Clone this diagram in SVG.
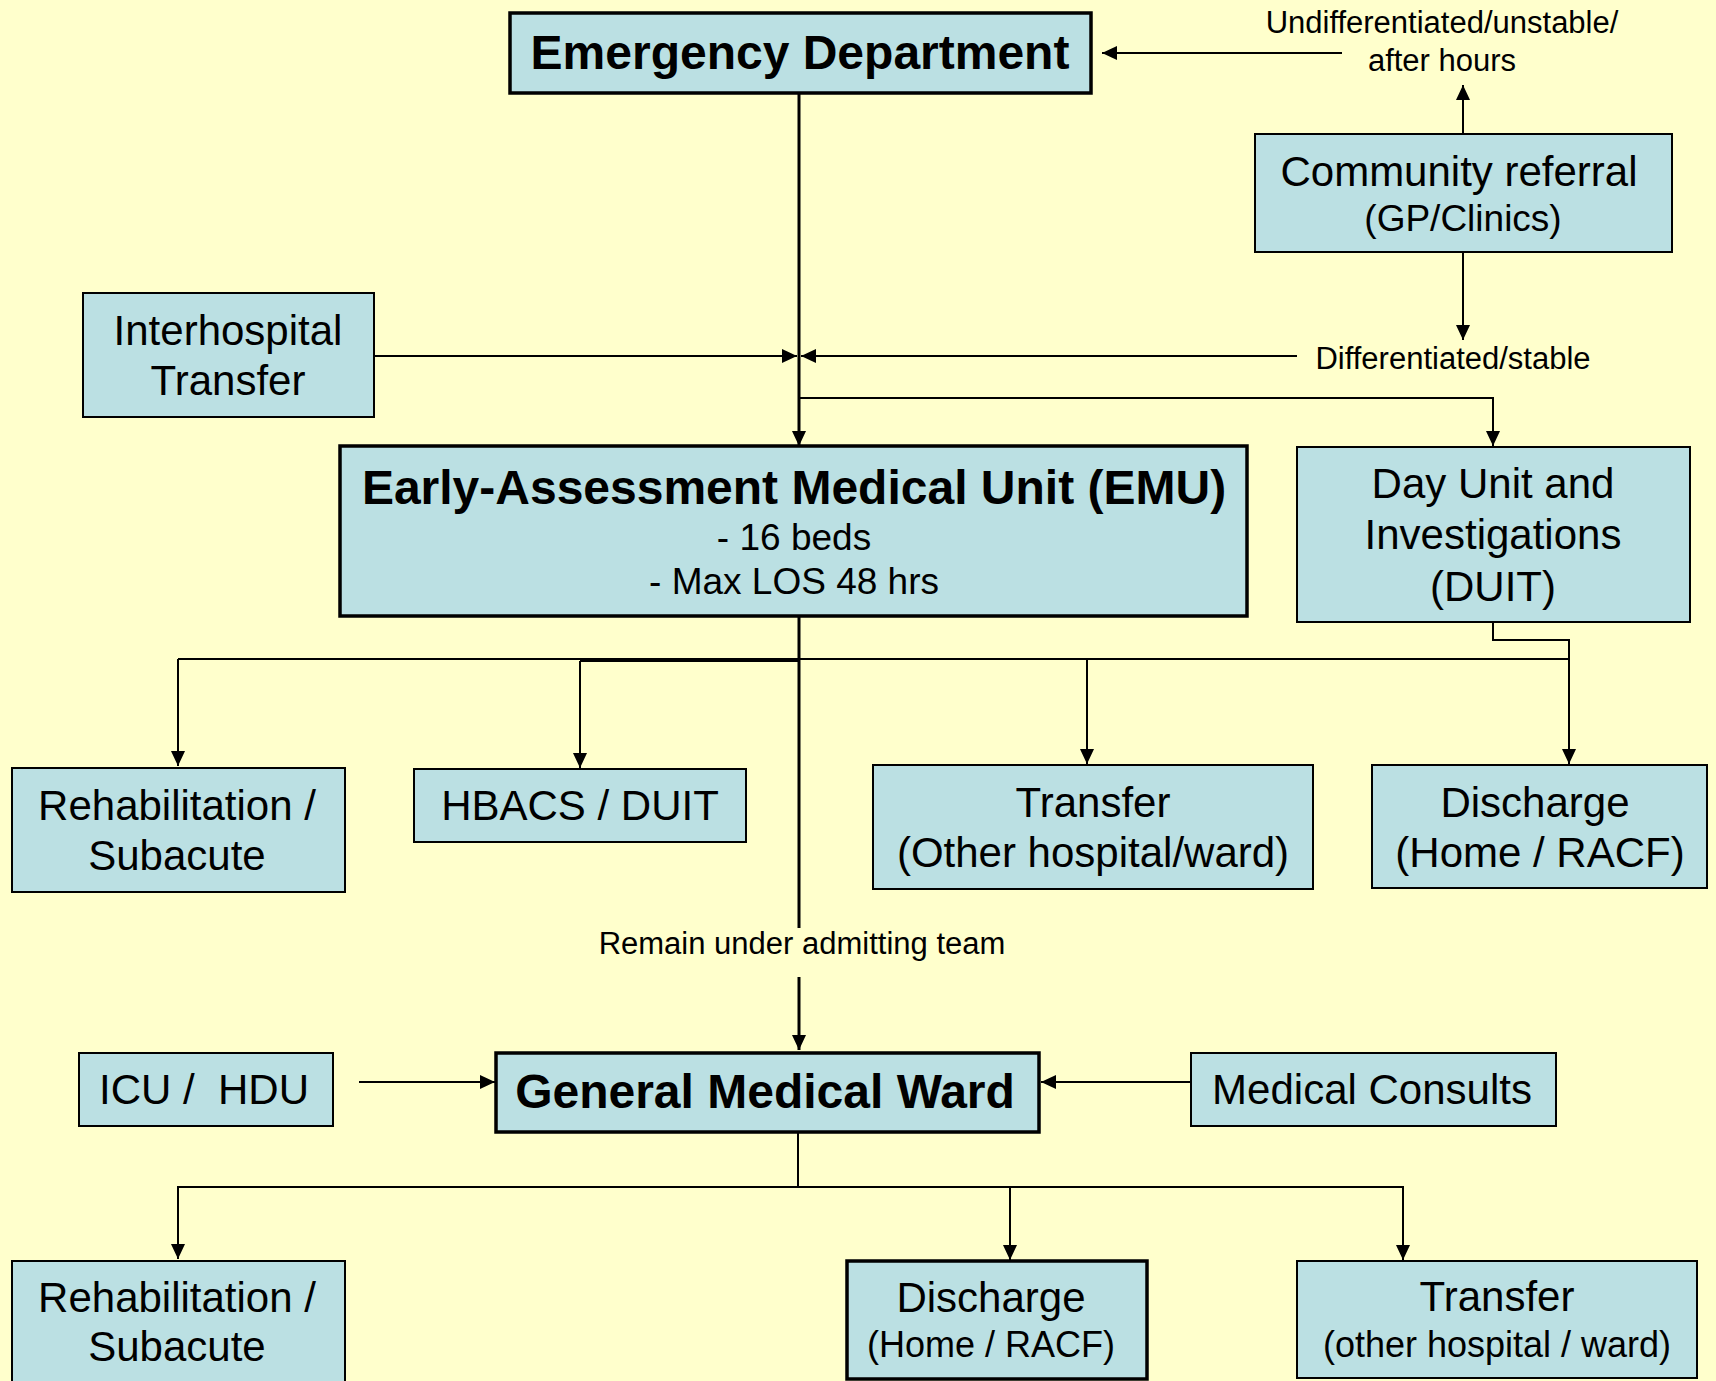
<svg xmlns="http://www.w3.org/2000/svg" width="1716" height="1381" viewBox="0 0 1716 1381">
<style>
.box{fill:#BBE0E3;stroke:#000;stroke-width:2}
.thick{stroke-width:3.5}
text{font-family:"Liberation Sans",Arial,sans-serif;fill:#000;text-anchor:middle}
.b48{font-size:48px;font-weight:bold}
.t42{font-size:42px}
.t37{font-size:37px}
.t36{font-size:36px}
.t31{font-size:31px}
.c{fill:none;stroke:#000;stroke-width:2}
.trunk{stroke-width:3}
.a{marker-end:url(#ah)}
</style>
<defs>
<marker id="ah" markerUnits="userSpaceOnUse" markerWidth="16" markerHeight="14" refX="15" refY="7" orient="auto">
<path d="M0,0 L15,7 L0,14 z" fill="#000"/>
</marker>
</defs>
<rect width="1716" height="1381" fill="#FFFFCC"/>

<g id="connectors">
<line class="c trunk a" x1="799" y1="93" x2="799" y2="446"/>
<line class="c a" x1="1463" y1="134" x2="1463" y2="85"/>
<line class="c a" x1="1342" y1="53" x2="1102" y2="53"/>
<line class="c a" x1="1463" y1="252" x2="1463" y2="340"/>
<line class="c a" x1="1297" y1="356" x2="801" y2="356"/>
<line class="c a" x1="374" y1="356" x2="797" y2="356"/>
<polyline class="c a" points="799,398 1493,398 1493,446"/>
<line class="c trunk" x1="799" y1="616" x2="799" y2="928"/>
<line class="c trunk a" x1="799" y1="977" x2="799" y2="1050"/>
<line class="c" x1="178" y1="659" x2="1569" y2="659"/>
<line class="c" x1="580" y1="661" x2="799" y2="661"/>
<line class="c a" x1="178" y1="659" x2="178" y2="766"/>
<line class="c a" x1="580" y1="661" x2="580" y2="768"/>
<line class="c a" x1="1087" y1="659" x2="1087" y2="764"/>
<polyline class="c a" points="1493,622 1493,640 1569,640 1569,764"/>
<line class="c a" x1="359" y1="1082" x2="495" y2="1082"/>
<line class="c a" x1="1190" y1="1082" x2="1041" y2="1082"/>
<line class="c" x1="798" y1="1132" x2="798" y2="1187"/>
<line class="c" x1="177" y1="1187" x2="1404" y2="1187"/>
<line class="c a" x1="178" y1="1187" x2="178" y2="1259"/>
<line class="c a" x1="1010" y1="1187" x2="1010" y2="1260"/>
<line class="c a" x1="1403" y1="1187" x2="1403" y2="1260"/>
</g>

<g id="emergency-department">
<rect class="box thick" x="510" y="13" width="581" height="80"/>
<text class="b48" x="800" y="69">Emergency Department</text>
</g>

<g id="label-undifferentiated">
<text class="t31" x="1442" y="33">Undifferentiated/unstable/</text>
<text class="t31" x="1442" y="71">after hours</text>
</g>

<g id="community-referral">
<rect class="box" x="1255" y="134" width="417" height="118"/>
<text class="t42" x="1459" y="186">Community referral</text>
<text class="t37" x="1463" y="231">(GP/Clinics)</text>
</g>

<g id="label-differentiated">
<text class="t31" x="1453" y="369">Differentiated/stable</text>
</g>

<g id="interhospital-transfer">
<rect class="box" x="83" y="293" width="291" height="124"/>
<text class="t42" x="228" y="345">Interhospital</text>
<text class="t42" x="228" y="395">Transfer</text>
</g>

<g id="emu">
<rect class="box thick" x="340" y="446" width="907" height="170"/>
<text class="b48" x="794" y="504">Early-Assessment Medical Unit (EMU)</text>
<text class="t37" x="794" y="550">- 16 beds</text>
<text class="t37" x="794" y="594">- Max LOS 48 hrs</text>
</g>

<g id="duit">
<rect class="box" x="1297" y="447" width="393" height="175"/>
<text class="t42" x="1493" y="498">Day Unit and</text>
<text class="t42" x="1493" y="549">Investigations</text>
<text class="t42" x="1493" y="601">(DUIT)</text>
</g>

<g id="rehab-emu">
<rect class="box" x="12" y="768" width="333" height="124"/>
<text class="t42" x="177" y="820">Rehabilitation /</text>
<text class="t42" x="177" y="870">Subacute</text>
</g>

<g id="hbacs-duit">
<rect class="box" x="414" y="769" width="332" height="73"/>
<text class="t42" x="580" y="820">HBACS / DUIT</text>
</g>

<g id="transfer-emu">
<rect class="box" x="873" y="765" width="440" height="124"/>
<text class="t42" x="1093" y="817">Transfer</text>
<text class="t42" x="1093" y="867">(Other hospital/ward)</text>
</g>

<g id="discharge-emu">
<rect class="box" x="1372" y="765" width="335" height="123"/>
<text class="t42" x="1535" y="817">Discharge</text>
<text class="t42" x="1540" y="867">(Home / RACF)</text>
</g>

<g id="label-remain">
<text class="t31" x="802" y="954">Remain under admitting team</text>
</g>

<g id="icu-hdu">
<rect class="box" x="79" y="1053" width="254" height="73"/>
<text class="t42" x="204" y="1104" xml:space="preserve">ICU /  HDU</text>
</g>

<g id="general-medical-ward">
<rect class="box thick" x="496" y="1053" width="543" height="79"/>
<text class="b48" x="765" y="1108">General Medical Ward</text>
</g>

<g id="medical-consults">
<rect class="box" x="1191" y="1053" width="365" height="73"/>
<text class="t42" x="1372" y="1104">Medical Consults</text>
</g>

<g id="rehab-gmw">
<rect class="box" x="12" y="1261" width="333" height="135"/>
<text class="t42" x="177" y="1312">Rehabilitation /</text>
<text class="t42" x="177" y="1361">Subacute</text>
</g>

<g id="discharge-gmw">
<rect class="box thick" x="847" y="1261" width="300" height="118"/>
<text class="t42" x="991" y="1312">Discharge</text>
<text class="t36" x="991" y="1357">(Home / RACF)</text>
</g>

<g id="transfer-gmw">
<rect class="box" x="1297" y="1261" width="400" height="117"/>
<text class="t42" x="1497" y="1311">Transfer</text>
<text class="t36" x="1497" y="1357">(other hospital / ward)</text>
</g>
</svg>
